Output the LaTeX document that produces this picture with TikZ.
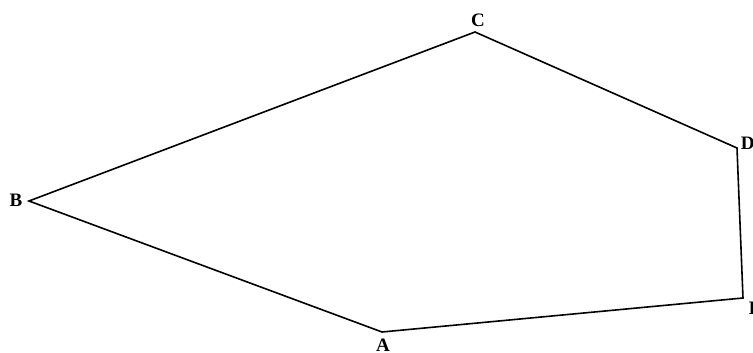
\documentclass[tikz,border=0pt]{standalone}
\usepackage{fontspec}
\setmainfont{Liberation Serif}

\begin{document}
\begin{tikzpicture}[x=1pt, y=-1pt, line width=1.6pt, line join=miter,
    vlabel/.style={font=\fontsize{19}{19}\selectfont\bfseries, inner sep=0pt}]
        \useasboundingbox (0,0) rectangle (753,353);
        \coordinate (A) at (382,332);
        \coordinate (B) at (29,201);
        \coordinate (C) at (475,32);
        \coordinate (D) at (737,148);
        \coordinate (E) at (743,298);
        \draw [] (A) -- (B) -- (C) -- (D) -- (E) -- cycle;
        \node[vlabel, anchor=north] (lA) at (383,338) {A};
        \node[vlabel, anchor=east] (lB) at (23,200) {B};
        \node[vlabel, anchor=south] (lC) at (478,27) {C};
        \node[vlabel, anchor=west] (lD) at (740,143) {D};
        \node[vlabel, anchor=north west] (lE) at (748,301) {E};
    \end{tikzpicture}
\end{document}
